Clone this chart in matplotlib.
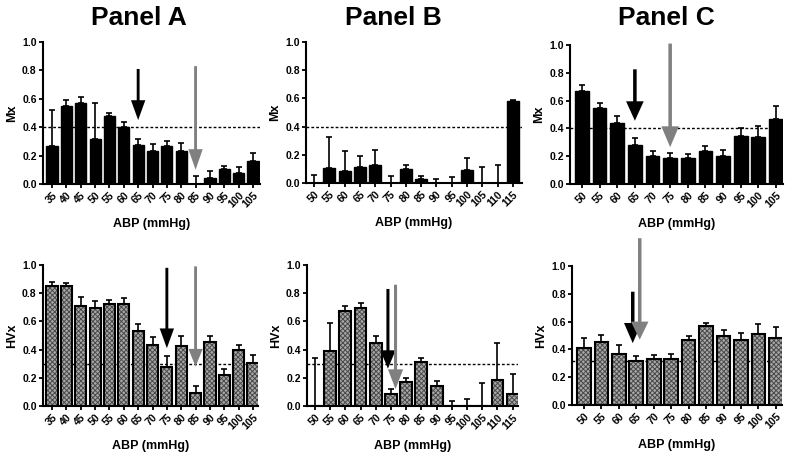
import matplotlib
matplotlib.use('Agg')
import matplotlib.pyplot as plt
import numpy as np

plt.rcParams['font.family'] = ['Liberation Sans', 'DejaVu Sans']
plt.rcParams['font.weight'] = 'bold'
plt.rcParams['hatch.linewidth'] = 0.7

# ABP bins for each panel
abp_a = [35, 40, 45, 50, 55, 60, 65, 70, 75, 80, 85, 90, 95, 100, 105]
abp_b = [50, 55, 60, 65, 70, 75, 80, 85, 90, 95, 100, 105, 110, 115]
abp_c = [50, 55, 60, 65, 70, 75, 80, 85, 90, 95, 100, 105]

# Mx (mean, upper error)
mx_a = [0.27, 0.55, 0.57, 0.315, 0.48, 0.40, 0.275, 0.23, 0.265, 0.235, 0.0, 0.045, 0.105, 0.08, 0.16]
mx_a_err = [0.25, 0.045, 0.04, 0.255, 0.02, 0.04, 0.045, 0.05, 0.035, 0.055, 0.055, 0.045, 0.025, 0.04, 0.06]
mx_b = [0.0, 0.105, 0.085, 0.115, 0.13, 0.0, 0.10, 0.026, 0.0, 0.0, 0.095, 0.0, 0.0, 0.58]
mx_b_err = [0.06, 0.22, 0.14, 0.075, 0.105, 0.047, 0.025, 0.024, 0.03, 0.045, 0.08, 0.11, 0.125, 0.01]
mx_c = [0.67, 0.55, 0.44, 0.28, 0.20, 0.19, 0.185, 0.24, 0.20, 0.345, 0.34, 0.465]
mx_c_err = [0.04, 0.03, 0.05, 0.05, 0.035, 0.03, 0.03, 0.03, 0.045, 0.055, 0.08, 0.095]

# HVx (mean, upper error)
hvx_a = [0.85, 0.85, 0.71, 0.695, 0.725, 0.725, 0.535, 0.435, 0.28, 0.425, 0.09, 0.455, 0.22, 0.40, 0.305]
hvx_a_err = [0.03, 0.025, 0.06, 0.05, 0.03, 0.04, 0.045, 0.055, 0.075, 0.07, 0.05, 0.045, 0.045, 0.035, 0.06]
hvx_b = [0.0, 0.39, 0.675, 0.695, 0.445, 0.083, 0.17, 0.31, 0.14, 0.0, 0.0, 0.0, 0.185, 0.088]
hvx_b_err = [0.34, 0.20, 0.035, 0.035, 0.055, 0.037, 0.03, 0.03, 0.04, 0.033, 0.052, 0.16, 0.265, 0.142]
hvx_c = [0.41, 0.45, 0.37, 0.315, 0.33, 0.33, 0.47, 0.57, 0.50, 0.47, 0.51, 0.48]
hvx_c_err = [0.075, 0.055, 0.06, 0.04, 0.03, 0.035, 0.03, 0.02, 0.04, 0.045, 0.07, 0.08]

# thresholds (dashed lines)
thr = {'A_mx': 0.4, 'B_mx': 0.4, 'C_mx': 0.4, 'A_hvx': 0.3, 'B_hvx': 0.3, 'C_hvx': 0.32}

# arrows: (x index, top, tip, head length, colour)
arrows = {
    'A_mx': [(6, 0.81, 0.45, 0.14, 'black'), (10, 0.83, 0.10, 0.145, '#808080')],
    'B_mx': [],
    'C_mx': [(3, 0.825, 0.455, 0.14, 'black'), (5, 1.01, 0.265, 0.15, '#808080')],
    'A_hvx': [(8, 0.98, 0.41, 0.14, 'black'), (10, 0.99, 0.28, 0.125, '#808080')],
    'B_hvx': [(4.8, 0.83, 0.265, 0.13, 'black'), (5.3, 0.86, 0.12, 0.14, '#808080')],
    'C_hvx': [(2.8, 0.815, 0.445, 0.145, 'black'), (3.2, 1.2, 0.47, 0.13, '#808080')],
}

W, H = 794, 462
fig = plt.figure(figsize=(W / 100, H / 100), dpi=100)


def make_ax(l, t, r, b):
    return fig.add_axes([l / W, 1 - b / H, (r - l) / W, (b - t) / H])


def panel(ax, key, abp, vals, errs, ylabel, xlim, hatched):
    x = np.arange(len(abp))
    ax.axhline(thr[key], color='black', lw=1.0, ls=(0, (2, 1.5)), zorder=1)
    if hatched:
        ax.bar(x, vals, width=0.78, color='#a8a8a8', edgecolor='#4a4a4a',
               hatch='xxxxxxx', lw=0, zorder=2)
        ax.bar(x, vals, width=0.78, fill=False, edgecolor='black', lw=1.5, zorder=3)
    else:
        ax.bar(x, vals, width=0.78, color='black', edgecolor='black', lw=1.0, zorder=2)
    ax.errorbar(x, vals, yerr=[np.zeros(len(vals)), errs], fmt='none',
                ecolor='black', elinewidth=1.2, capsize=2.5, capthick=1.2, zorder=4)
    for xi, top, tip, hl, col in arrows[key]:
        ax.arrow(xi, top, 0, tip - top, width=0.2, head_width=1.0, head_length=hl,
                 length_includes_head=True, color=col, lw=0, zorder=5, clip_on=False)
    ax.set_xlim(*xlim)
    ax.set_ylim(0, 1.0)
    ax.set_yticks([0.0, 0.2, 0.4, 0.6, 0.8, 1.0])
    ax.set_yticklabels(['%.1f' % v for v in [0.0, 0.2, 0.4, 0.6, 0.8, 1.0]],
                       fontsize=7.5, fontweight='bold')
    ax.set_xticks(x)
    ax.set_xticklabels([str(a) for a in abp], rotation=45, ha='right',
                       rotation_mode='anchor', fontsize=7.5, fontweight='bold')
    for s in ['top', 'right']:
        ax.spines[s].set_visible(False)
    for s in ['left', 'bottom']:
        ax.spines[s].set_linewidth(1.5)
    ax.tick_params(axis='both', length=3, width=1.3, pad=1.5)
    ax.set_ylabel(ylabel, fontsize=9, fontweight='bold', labelpad=3)
    ax.set_xlabel('ABP (mmHg)', fontsize=9, fontweight='bold', labelpad=6)


axA1 = make_ax(43, 42, 260, 184)
axB1 = make_ax(306, 42, 522, 183)
axC1 = make_ax(570, 45, 783, 184)
axA2 = make_ax(43, 265, 258, 406)
axB2 = make_ax(307, 265, 518, 406)
axC2 = make_ax(572, 266, 782, 405)

panel(axA1, 'A_mx', abp_a, mx_a, mx_a_err, 'Mx', (-0.63, 14.49), False)
panel(axB1, 'B_mx', abp_b, mx_b, mx_b_err, 'Mx', (-0.52, 13.59), False)
panel(axC1, 'C_mx', abp_c, mx_c, mx_c_err, 'Mx', (-0.68, 11.4), False)
panel(axA2, 'A_hvx', abp_a, hvx_a, hvx_a_err, 'HVx', (-0.63, 14.35), True)
panel(axB2, 'B_hvx', abp_b, hvx_b, hvx_b_err, 'HVx', (-0.52, 13.35), True)
panel(axC2, 'C_hvx', abp_c, hvx_c, hvx_c_err, 'HVx', (-0.68, 11.35), True)

for cx, txt in [(139, 'Panel A'), (393, 'Panel B'), (666, 'Panel C')]:
    fig.text(cx / W, 1 - 18 / H, txt, fontsize=19, fontweight='bold',
             ha='center', va='center')

fig.savefig('out.png', dpi=100)
